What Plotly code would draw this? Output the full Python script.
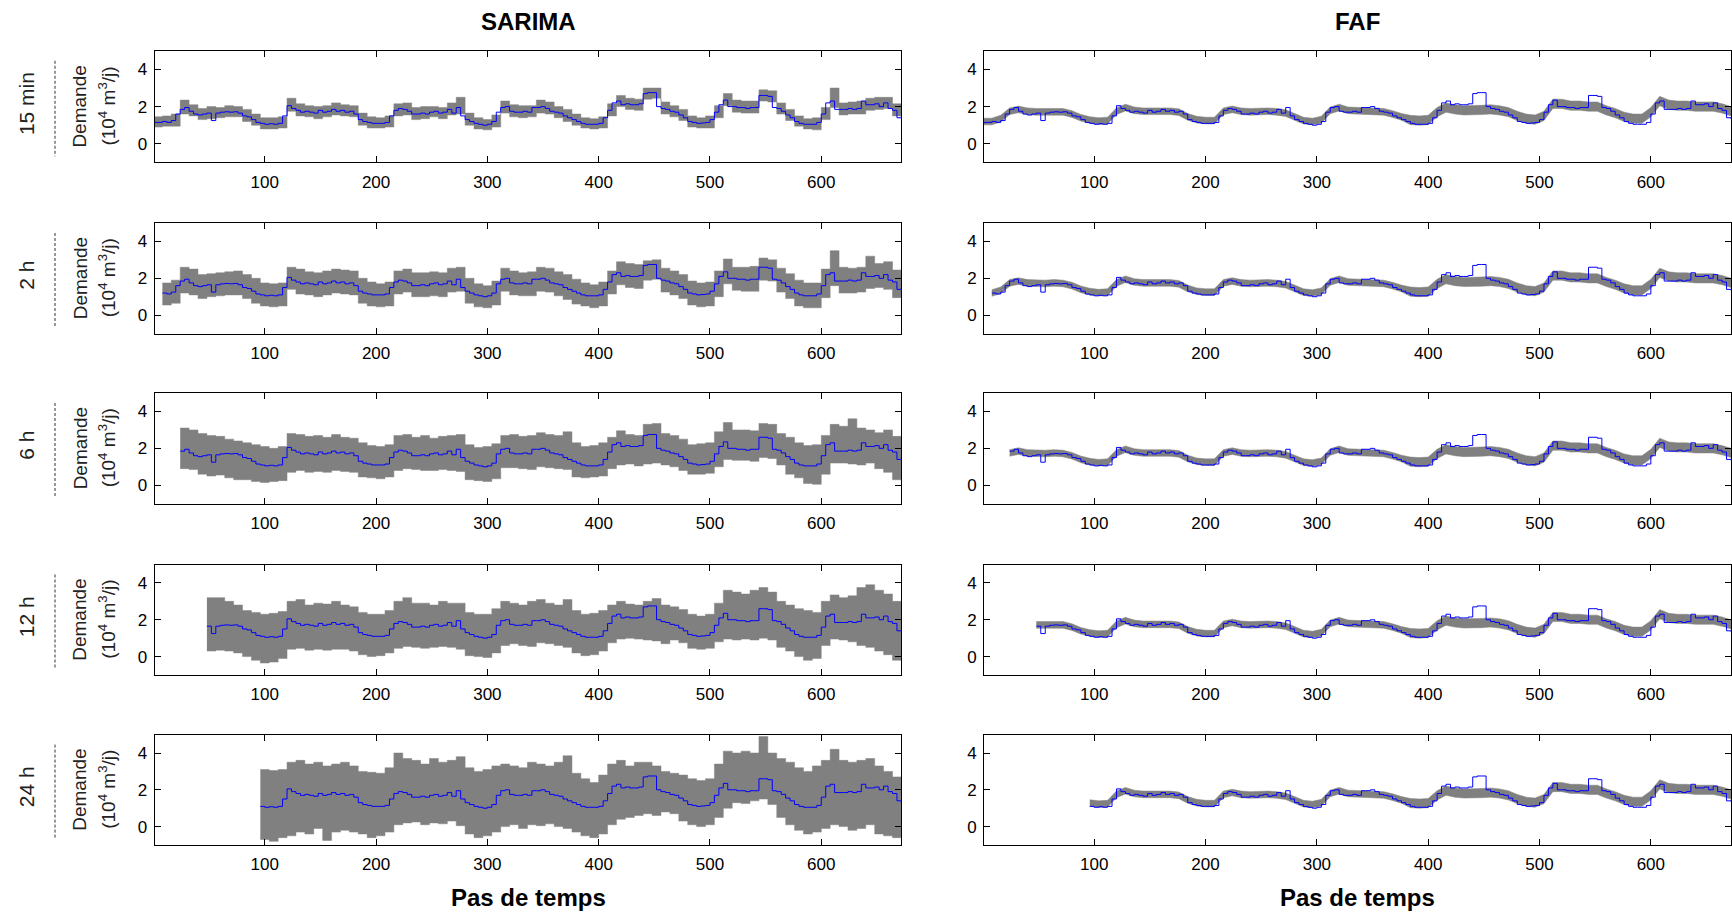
import plotly.graph_objects as go

# ---------------- data ----------------
models = ["SARIMA", "FAF"]
horizons = ["15 min", "2 h", "6 h", "12 h", "24 h"]
horizon_start = [0, 8, 24, 48, 96]          # first forecast step per horizon
x_tick_labels = [100, 200, 300, 400, 500, 600]
y_tick_labels = [0, 2, 4]

obs_steps = list(range(0, 673, 4))           # observed demand, every 4 steps
band_steps = list(range(0, 673, 8))          # prediction bands, every 8 steps

# observed demand (10^4 m3/j), one line per day (96 steps)
observed = [
    1.15, 1.15, 1.2, 1.15, 1.25, 1.6, 1.85, 1.95, 1.75, 1.6, 1.55, 1.6, 1.65, 1.25, 1.65, 1.7, 1.72, 1.7, 1.72, 1.65, 1.5, 1.45, 1.3, 1.15,
    1.1, 1.05, 1.08, 1.05, 1.1, 1.5, 2.05, 1.9, 1.8, 1.7, 1.75, 1.7, 1.65, 1.8, 1.7, 1.75, 1.85, 1.75, 1.8, 1.7, 1.75, 1.6, 1.3, 1.2,
    1.15, 1.1, 1.1, 1.1, 1.15, 1.5, 1.8, 1.9, 1.85, 1.75, 1.6, 1.6, 1.65, 1.6, 1.7, 1.75, 1.65, 1.7, 1.85, 1.65, 1.95, 1.5, 1.3, 1.2,
    1.1, 1.05, 1.0, 1.05, 1.2, 1.7, 1.95, 2.0, 1.75, 1.7, 1.7, 1.75, 1.7, 1.95, 1.95, 2.0, 1.9, 1.75, 1.7, 1.65, 1.5, 1.4, 1.3, 1.2,
    1.1, 1.05, 1.05, 1.05, 1.1, 1.4, 1.8, 2.2, 2.3, 2.1, 2.15, 2.1, 2.1, 2.15, 2.7, 2.75, 2.75, 2.0, 1.9, 1.85, 1.75, 1.7, 1.55, 1.4,
    1.2, 1.15, 1.1, 1.12, 1.15, 1.3, 1.7, 2.1, 2.35, 2.0, 2.0, 1.95, 1.95, 1.9, 1.95, 1.95, 2.6, 2.6, 2.55, 1.95, 1.9, 1.75, 1.55, 1.4,
    1.2, 1.1, 1.05, 1.05, 1.05, 1.15, 1.6, 2.2, 2.3, 1.85, 1.85, 1.85, 1.9, 1.85, 1.9, 2.3, 2.1, 2.1, 2.15, 2.0, 2.2, 1.9, 1.8, 1.4,
    1.35,
]

N = None
# SARIMA prediction bands (upper / lower), one line per day (12 values)
sarima_15min_upper = [
    1.45, 1.5, 1.6, 2.35, 2.1, 1.9, 2.0, 1.95, 2.05, 2.0, 1.85, 1.6,
    1.4, 1.4, 1.45, 2.45, 2.15, 2.05, 2.0, 2.05, 2.2, 2.1, 2.05, 1.65,
    1.45, 1.4, 1.5, 2.15, 2.2, 1.95, 2.0, 2.0, 1.95, 2.2, 2.5, 1.65,
    1.4, 1.3, 1.55, 2.3, 2.1, 2.05, 2.05, 2.35, 2.25, 2.0, 1.85, 1.6,
    1.4, 1.35, 1.45, 2.15, 2.6, 2.45, 2.4, 3.0, 3.0, 2.25, 2.05, 1.85,
    1.5, 1.4, 1.5, 2.05, 2.7, 2.35, 2.3, 2.3, 2.9, 2.85, 2.2, 1.85,
    1.5, 1.35, 1.4, 1.95, 3.0, 2.2, 2.25, 2.3, 2.45, 2.5, 2.5, 2.15,
    1.65,
]
sarima_15min_lower = [
    0.9, 0.95, 0.95, 1.6, 1.5, 1.3, 1.35, 1.4, 1.45, 1.45, 1.2, 1.0,
    0.8, 0.8, 0.85, 1.75, 1.5, 1.45, 1.35, 1.45, 1.55, 1.5, 1.45, 1.0,
    0.85, 0.85, 0.9, 1.5, 1.55, 1.3, 1.35, 1.45, 1.35, 1.55, 1.6, 1.0,
    0.8, 0.75, 0.9, 1.65, 1.45, 1.4, 1.45, 1.65, 1.6, 1.4, 1.2, 1.0,
    0.85, 0.8, 0.85, 1.5, 2.0, 1.85, 1.8, 2.4, 2.45, 1.6, 1.45, 1.25,
    0.9, 0.85, 0.85, 1.4, 2.05, 1.7, 1.65, 1.65, 2.3, 2.25, 1.6, 1.25,
    0.95, 0.8, 0.75, 1.3, 1.95, 1.55, 1.6, 1.6, 1.8, 1.85, 1.9, 1.5,
    1.05,
]
sarima_2h_upper = [
    N, 1.75, 1.9, 2.6, 2.5, 2.2, 2.25, 2.3, 2.35, 2.4, 2.2, 2.0,
    1.75, 1.7, 1.75, 2.6, 2.5, 2.35, 2.3, 2.4, 2.5, 2.45, 2.4, 2.0,
    1.8, 1.7, 1.8, 2.4, 2.5, 2.3, 2.3, 2.35, 2.3, 2.55, 2.6, 2.0,
    1.7, 1.6, 1.85, 2.55, 2.4, 2.3, 2.35, 2.6, 2.55, 2.35, 2.2, 1.95,
    1.75, 1.65, 1.8, 2.4, 2.9, 2.8, 2.75, 2.95, 3.0, 2.55, 2.4, 2.2,
    1.85, 1.75, 1.8, 2.4, 3.05, 2.6, 2.6, 2.65, 3.1, 3.0, 2.55, 2.25,
    1.9, 1.75, 1.75, 2.5, 3.5, 2.6, 2.55, 2.6, 3.2, 2.8, 2.9, 2.45,
    2.1,
]
sarima_2h_lower = [
    N, 0.55, 0.65, 1.2, 1.1, 0.9, 1.0, 1.05, 1.1, 1.1, 0.9, 0.65,
    0.5, 0.45, 0.5, 1.4, 1.15, 1.1, 1.0, 1.1, 1.2, 1.15, 1.1, 0.65,
    0.5, 0.45, 0.5, 1.15, 1.25, 1.0, 1.0, 1.05, 1.0, 1.25, 1.3, 0.65,
    0.45, 0.4, 0.55, 1.3, 1.1, 1.05, 1.05, 1.3, 1.25, 1.05, 0.85, 0.6,
    0.5, 0.4, 0.5, 1.15, 1.65, 1.5, 1.45, 1.9, 1.95, 1.25, 1.1, 0.9,
    0.55, 0.45, 0.5, 1.0, 1.7, 1.35, 1.3, 1.3, 1.9, 1.85, 1.25, 0.9,
    0.5, 0.4, 0.4, 0.95, 1.6, 1.2, 1.2, 1.25, 1.45, 1.5, 1.4, 0.95,
    0.7,
]
sarima_6h_upper = [
    N, N, N, 3.1, 3.0, 2.8, 2.7, 2.65, 2.5, 2.4, 2.3, 2.2,
    2.1, 2.0, 2.1, 2.8, 2.75, 2.65, 2.7, 2.6, 2.75, 2.6, 2.55, 2.3,
    2.15, 2.1, 2.2, 2.7, 2.75, 2.6, 2.7, 2.55, 2.65, 2.7, 2.75, 2.2,
    2.05, 2.1, 2.25, 2.7, 2.75, 2.65, 2.7, 2.85, 2.75, 2.7, 2.9, 2.3,
    2.1, 2.15, 2.3, 2.6, 2.95, 2.75, 2.7, 3.3, 3.35, 2.8, 2.7, 2.5,
    2.2, 2.25, 2.3, 2.9, 3.4, 3.0, 3.0, 2.95, 3.35, 3.3, 2.8, 2.6,
    2.3, 2.15, 2.2, 2.7, 3.3, 3.2, 3.6, 3.1, 3.0, 2.85, 3.0, 2.65,
    2.5,
]
sarima_6h_lower = [
    N, N, N, 0.9, 0.85, 0.6, 0.5, 0.55, 0.4, 0.3, 0.3, 0.2,
    0.15, 0.2, 0.25, 0.7, 0.8, 0.7, 0.75, 0.7, 0.8, 0.75, 0.7, 0.45,
    0.4, 0.35, 0.45, 0.8, 0.9, 0.85, 0.8, 0.8, 0.85, 0.8, 0.75, 0.3,
    0.25, 0.2, 0.35, 0.95, 0.95, 0.9, 0.85, 1.0, 0.95, 0.9, 0.85, 0.45,
    0.4, 0.45, 0.5, 0.9, 1.1, 1.15, 1.05, 1.15, 1.2, 1.1, 1.0, 0.8,
    0.6, 0.6, 0.65, 1.0, 1.4, 1.35, 1.35, 1.3, 1.5, 1.45, 1.1, 0.6,
    0.4, 0.1, 0.05, 0.6, 1.2, 1.2, 1.15, 1.1, 1.2, 0.9, 0.7, 0.3,
    0.1,
]
sarima_12h_upper = [
    N, N, N, N, N, N, 3.2, 3.2, 3.0, 2.8, 2.5, 2.4,
    2.3, 2.35, 2.45, 3.0, 3.1, 2.8, 2.9, 2.85, 3.0, 2.8, 2.7, 2.4,
    2.3, 2.3, 2.5, 3.0, 3.2, 2.9, 2.9, 2.8, 3.0, 2.9, 2.9, 2.4,
    2.3, 2.3, 2.6, 3.0, 2.9, 2.8, 3.0, 3.1, 2.9, 2.8, 3.1, 2.5,
    2.3, 2.35, 2.5, 2.8, 3.0, 2.85, 2.8, 3.0, 3.15, 2.8, 2.7, 2.55,
    2.3, 2.2, 2.3, 2.9, 3.6, 3.5, 3.4, 3.6, 3.75, 3.5, 3.0, 2.8,
    2.6, 2.5, 2.4, 3.0, 3.35, 3.2, 3.3, 3.75, 3.9, 3.6, 3.4, 3.0,
    2.6,
]
sarima_12h_lower = [
    N, N, N, N, N, N, 0.3, 0.35, 0.3, 0.2, 0.0, -0.2,
    -0.35, -0.3, -0.1, 0.4, 0.45, 0.35, 0.4, 0.35, 0.4, 0.4, 0.3, 0.1,
    0.0, 0.05, 0.2, 0.45, 0.55, 0.5, 0.45, 0.5, 0.55, 0.5, 0.4, 0.05,
    0.0, -0.05, 0.2, 0.6, 0.7, 0.6, 0.55, 0.75, 0.7, 0.6, 0.5, 0.2,
    0.05, 0.1, 0.3, 0.75, 0.95, 1.0, 0.95, 0.9, 0.85, 0.7, 0.9, 0.75,
    0.45, 0.4, 0.45, 0.8, 0.95, 0.9, 0.95, 0.9, 1.0, 0.9, 0.5, 0.3,
    0.0, -0.2, -0.1, 0.6, 0.95, 0.9, 0.8, 0.6, 0.5, 0.3, 0.1, -0.2,
    -0.3,
]
sarima_24h_upper = [
    N, N, N, N, N, N, N, N, N, N, N, N,
    3.1, 3.05, 3.1, 3.5, 3.6, 3.4, 3.5, 3.3, 3.4, 3.5, 3.3, 3.0,
    2.95, 2.9, 3.2, 4.0, 3.7, 3.6, 3.4, 3.7, 3.5, 3.6, 3.8, 3.2,
    3.0, 3.1, 3.3, 3.4, 3.3, 3.2, 3.5, 3.4, 3.3, 3.5, 3.85, 2.9,
    2.6, 2.4, 2.8, 3.4, 3.6, 3.3, 3.5, 3.5, 3.3, 3.0, 2.9, 2.8,
    2.6, 2.5, 2.6, 3.4, 4.1, 4.0, 4.1, 4.0, 4.9, 4.0, 3.7, 3.5,
    3.2, 3.0, 3.3, 3.6, 4.2, 3.6, 3.5, 3.6, 3.7, 3.3, 3.0, 2.7,
    2.5,
]
sarima_24h_lower = [
    N, N, N, N, N, N, N, N, N, N, N, N,
    -0.7, -0.8, -0.6, -0.5, -0.3, -0.4, -0.1, -0.75, -0.3, -0.2, -0.3, -0.4,
    -0.6, -0.5, -0.3, 0.1, 0.2, 0.25, 0.1, 0.2, 0.15, 0.3, 0.05, -0.4,
    -0.6, -0.5, -0.3, 0.0, 0.1, -0.1, 0.1, 0.05, 0.15, 0.0, -0.1, -0.3,
    -0.5, -0.6, -0.4, 0.1, 0.4, 0.5, 0.6, 0.7, 0.6, 0.8, 0.7, 0.3,
    0.1, 0.0, 0.1, 0.5, 1.0, 1.3, 1.25, 1.4, 1.5, 1.2, 0.5, 0.1,
    -0.2, -0.4, -0.3, -0.1, 0.1, 0.0, -0.2, -0.1, 0.1, -0.4, -0.5, -0.6,
    -0.8,
]
# FAF prediction band (same for all horizons, starting at the horizon)
faf_upper = [
    1.38, 1.38, 1.53, 1.93, 2.03, 1.93, 1.9, 1.9, 1.93, 1.9, 1.78, 1.58,
    1.46, 1.4, 1.43, 1.93, 2.13, 1.98, 1.93, 1.93, 1.93, 1.93, 1.88, 1.63,
    1.48, 1.43, 1.43, 1.93, 2.03, 1.93, 1.9, 1.93, 1.93, 1.9, 1.83, 1.63,
    1.43, 1.38, 1.48, 1.98, 2.13, 1.98, 1.96, 1.96, 1.93, 1.9, 1.78, 1.63,
    1.53, 1.5, 1.53, 1.95, 2.2, 2.1, 2.05, 2.05, 2.07, 2.1, 2.05, 1.95,
    1.75, 1.6, 1.55, 1.75, 2.4, 2.4, 2.3, 2.3, 2.25, 2.25, 2.05, 1.9,
    1.7, 1.6, 1.6, 1.95, 2.55, 2.35, 2.3, 2.3, 2.25, 2.25, 2.25, 2.15,
    2.0,
]
faf_lower = [
    1.02, 1.02, 1.17, 1.57, 1.67, 1.57, 1.54, 1.54, 1.57, 1.54, 1.42, 1.22,
    1.1, 1.04, 1.07, 1.57, 1.77, 1.62, 1.57, 1.57, 1.57, 1.57, 1.52, 1.27,
    1.12, 1.07, 1.07, 1.57, 1.67, 1.57, 1.54, 1.57, 1.57, 1.54, 1.47, 1.27,
    1.07, 1.02, 1.12, 1.62, 1.77, 1.62, 1.6, 1.6, 1.57, 1.54, 1.42, 1.27,
    1.03, 1.0, 1.03, 1.45, 1.7, 1.6, 1.55, 1.55, 1.57, 1.6, 1.55, 1.45,
    1.25, 1.1, 1.05, 1.25, 1.9, 1.9, 1.8, 1.8, 1.75, 1.75, 1.55, 1.4,
    1.2, 1.1, 1.1, 1.45, 2.05, 1.85, 1.8, 1.8, 1.75, 1.75, 1.75, 1.65,
    1.5,
]

sarima_bands = [
    (sarima_15min_lower, sarima_15min_upper),
    (sarima_2h_lower, sarima_2h_upper),
    (sarima_6h_lower, sarima_6h_upper),
    (sarima_12h_lower, sarima_12h_upper),
    (sarima_24h_lower, sarima_24h_upper),
]

# ---------------- layout geometry (pixels) ----------------
W, H = 1732, 913
col_px = [(154.6, 901.4), (984.0, 1731.0)]
row_px = [(50.8, 162.4), (223.0, 333.6), (393.0, 503.7), (564.5, 675.0), (734.6, 845.0)]

GRAY = "#808080"
BLUE = "#0000FF"
FONT = "Liberation Sans, Arial, Helvetica, sans-serif"


def px_x(p):
    return p / W


def px_y(p):
    return 1 - p / H


def from_start(xs, ys, start):
    px, py = [], []
    for x, y in zip(xs, ys):
        if x >= start and y is not None:
            px.append(x)
            py.append(y)
    return px, py


fig = go.Figure()
layout_axes = {}

for r, hz in enumerate(horizons):
    start = horizon_start[r]
    for c, model in enumerate(models):
        k = r * 2 + c + 1
        xa = "x" if k == 1 else f"x{k}"
        ya = "y" if k == 1 else f"y{k}"
        if c == 0:
            lo, up = sarima_bands[r]
            shape = "hv"
        else:
            lo, up = faf_lower, faf_upper
            shape = "linear"
        bx, blo = from_start(band_steps, lo, start)
        _, bup = from_start(band_steps, up, start)
        fig.add_trace(go.Scatter(x=bx, y=blo, mode="lines", line=dict(color=GRAY, width=0.5, shape=shape),
                                 xaxis=xa, yaxis=ya, showlegend=False, hoverinfo="skip"))
        fig.add_trace(go.Scatter(x=bx, y=bup, mode="lines", line=dict(color=GRAY, width=0.5, shape=shape),
                                 fill="tonexty", fillcolor=GRAY,
                                 xaxis=xa, yaxis=ya, showlegend=False, hoverinfo="skip"))
        ox, oy = from_start(obs_steps, observed, start)
        fig.add_trace(go.Scatter(x=ox, y=oy, mode="lines", line=dict(color=BLUE, width=1, shape="hv"),
                                 xaxis=xa, yaxis=ya, showlegend=False))

        x0, x1 = col_px[c]
        y0, y1 = row_px[r]
        common = dict(showline=True, linecolor="black", linewidth=1, mirror="ticks",
                      ticks="inside", ticklen=6, tickcolor="black", tickwidth=1,
                      showgrid=False, zeroline=False,
                      tickfont=dict(family=FONT, size=17, color="black"))
        layout_axes["xaxis" if k == 1 else f"xaxis{k}"] = dict(
            domain=[px_x(x0), px_x(x1)], anchor=ya, range=[1, 672], ticklabelstandoff=4,
            tickmode="array", tickvals=x_tick_labels, ticktext=[str(v) for v in x_tick_labels], **common)
        layout_axes["yaxis" if k == 1 else f"yaxis{k}"] = dict(
            domain=[px_y(y1), px_y(y0)], anchor=xa, range=[-1, 5], ticklabelstandoff=3,
            tickmode="array", tickvals=y_tick_labels, ticktext=[str(v) for v in y_tick_labels], **common)

annotations = []
shapes = []
# column titles
for c, model in enumerate(models):
    x0, x1 = col_px[c]
    annotations.append(dict(text=f"<b>{model}</b>", x=px_x((x0 + x1) / 2), y=px_y(22), xref="paper", yref="paper",
                            showarrow=False, font=dict(family=FONT, size=24, color="black"),
                            xanchor="center", yanchor="middle"))
    annotations.append(dict(text="<b>Pas de temps</b>", x=px_x((x0 + x1) / 2), y=px_y(897), xref="paper",
                            yref="paper", showarrow=False, font=dict(family=FONT, size=24, color="black"),
                            xanchor="center", yanchor="middle"))
# row labels
for r, hz in enumerate(horizons):
    y0, y1 = row_px[r]
    yc = (y0 + y1) / 2
    annotations.append(dict(text=hz, x=px_x(26.5), y=px_y(yc - 3), xref="paper", yref="paper", textangle=-90,
                            showarrow=False, font=dict(family=FONT, size=21, color="#222222"),
                            xanchor="center", yanchor="middle"))
    annotations.append(dict(text="Demande", x=px_x(80), y=px_y(yc), xref="paper", yref="paper", textangle=-90,
                            showarrow=False, font=dict(family=FONT, size=19, color="#222222"),
                            xanchor="center", yanchor="middle"))
    annotations.append(dict(text="(10<sup>4</sup> m<sup>3</sup>/j)", x=px_x(107), y=px_y(yc), xref="paper",
                            yref="paper", textangle=-90, showarrow=False,
                            font=dict(family=FONT, size=19, color="#222222"),
                            xanchor="center", yanchor="middle"))
    shapes.append(dict(type="line", xref="paper", yref="paper", x0=px_x(55), x1=px_x(55),
                       y0=px_y(y0 + 10), y1=px_y(y1 - 6), line=dict(color="#333333", width=1, dash="3px,2px")))

fig.update_layout(width=W, height=H, margin=dict(l=0, r=0, t=0, b=0),
                  paper_bgcolor="white", plot_bgcolor="white",
                  annotations=annotations, shapes=shapes, showlegend=False, **layout_axes)

fig.write_html("out.html", config={"displayModeBar": False},
               post_script="document.body.style.margin='0px';document.body.style.overflow='hidden';")
